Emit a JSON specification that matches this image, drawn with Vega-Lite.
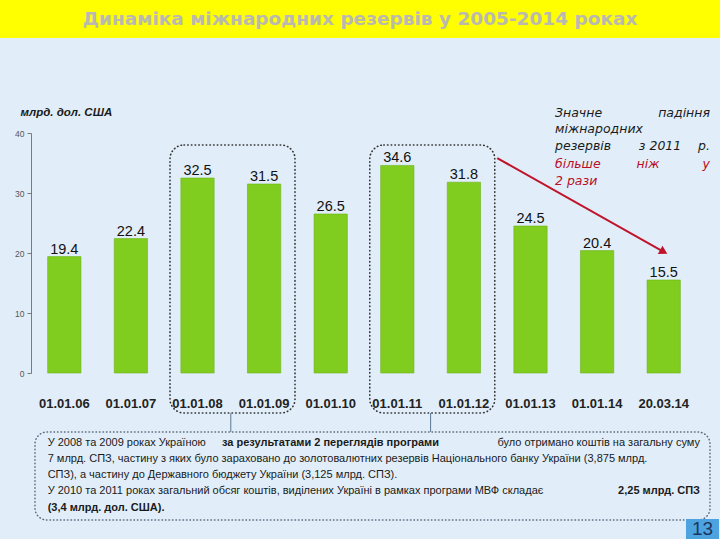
{
  "$schema": "https://vega.github.io/schema/vega-lite/v6.json",
  "background": "#e1eef9",
  "padding": 0,
  "config": {"view": {"stroke": null}, "axis": {"grid": false}},
  "spacing": 95,
  "bounds": "flush",
  "vconcat": [
    {
      "width": 720,
      "height": 38,
      "view": {"fill": "#ffff00", "stroke": null},
      "data": {"values": [{"t": "Динаміка міжнародних резервів у 2005-2014 роках"}]},
      "mark": {"type": "text", "font": "DejaVu Sans", "fontWeight": "bold", "fontSize": 18.5, "color": "#b9b9b0"},
      "encoding": {"text": {"field": "t", "type": "nominal"}}
    },
    {
      "spacing": 0,
      "bounds": "flush",
      "hconcat": [
        {
          "width": 31,
          "height": 10,
          "data": {"values": [{}]},
          "mark": {"type": "point", "opacity": 0}
        },
        {
          "width": 666,
          "height": 240,
          "data": {"values": [
            {"d": "01.01.06", "v": 19.4},
            {"d": "01.01.07", "v": 22.4},
            {"d": "01.01.08", "v": 32.5},
            {"d": "01.01.09", "v": 31.5},
            {"d": "01.01.10", "v": 26.5},
            {"d": "01.01.11", "v": 34.6},
            {"d": "01.01.12", "v": 31.8},
            {"d": "01.01.13", "v": 24.5},
            {"d": "01.01.14", "v": 20.4},
            {"d": "20.03.14", "v": 15.5}
          ]},
          "layer": [
            {
              "mark": {"type": "bar", "color": "#80cc1f", "stroke": "#6cb21a", "strokeWidth": 0.6},
              "encoding": {
                "x": {
                  "field": "d", "type": "nominal", "sort": null,
                  "scale": {"domain": ["01.01.06", "01.01.07", "01.01.08", "01.01.09", "01.01.10", "01.01.11", "01.01.12", "01.01.13", "01.01.14", "20.03.14"], "paddingInner": 0.5, "paddingOuter": 0.25},
                  "axis": {"title": null, "labelAngle": 0, "labelFont": "Liberation Sans", "labelFontWeight": "bold", "labelFontSize": 13, "labelColor": "#222222", "domain": false, "ticks": false, "tickSize": 0, "labelPadding": 24}
                },
                "y": {
                  "field": "v", "type": "quantitative",
                  "scale": {"domain": [0, 40], "nice": false},
                  "axis": {
                    "values": [0, 5, 10, 15, 20, 25, 30, 35, 40],
                    "title": "млрд. дол. США", "titleAngle": 0, "titleAlign": "left", "titleBaseline": "middle",
                    "titleX": -11, "titleY": -21, "titleFont": "Liberation Sans", "titleFontStyle": "italic",
                    "titleFontWeight": "bold", "titleFontSize": 11.5, "titleColor": "#1a1a1a",
                    "labelFont": "Liberation Sans", "labelFontSize": 8.5, "labelColor": "#555555",
                    "domainColor": "#7a7a7a", "tickColor": "#7a7a7a", "tickSize": 4, "labelPadding": 3
                  }
                }
              }
            },
            {
              "mark": {"type": "text", "baseline": "alphabetic", "dy": -3, "font": "Liberation Sans", "fontSize": 14.5, "color": "#111111"},
              "encoding": {
                "x": {"field": "d", "type": "nominal"},
                "y": {"field": "v", "type": "quantitative"},
                "text": {"field": "v", "type": "quantitative", "format": ".1f"}
              }
            },
            {
              "data": {"values": [{"c": "01.01.08"}, {"c": "01.01.11"}]},
              "mark": {"type": "point", "shape": "M-0.3619,-1H0.3619A0.1045,0.1045,0,0,1,0.4664,-0.8955V0.8955A0.1045,0.1045,0,0,1,0.3619,1H-0.3619A0.1045,0.1045,0,0,1,-0.4664,0.8955V-0.8955A0.1045,0.1045,0,0,1,-0.3619,-1Z", "size": 71824, "filled": false, "fill": "transparent", "stroke": "#333333", "strokeWidth": 1.6, "strokeDash": [0.5, 3.2], "strokeCap": "round", "opacity": 1},
              "encoding": {
                "x": {"field": "c", "type": "nominal", "bandPosition": 1.551},
                "y": {"datum": 15.67, "type": "quantitative"}
              }
            },
            {
              "data": {"values": [{"c": "01.01.08"}, {"c": "01.01.11"}]},
              "mark": {"type": "rule", "color": "#5c7592", "strokeWidth": 1},
              "encoding": {
                "x": {"field": "c", "type": "nominal", "bandPosition": 1.5},
                "y": {"datum": -6.67, "type": "quantitative"},
                "y2": {"datum": -9.83}
              }
            },
            {
              "data": {"values": [{}]},
              "mark": {"type": "rule", "color": "#c0142a", "strokeWidth": 2},
              "encoding": {
                "x": {"datum": "01.01.12", "type": "nominal", "bandPosition": 1.5},
                "x2": {"datum": "20.03.14", "bandPosition": 0.5},
                "y": {"datum": 35.83, "type": "quantitative"},
                "y2": {"datum": 20.2}
              }
            },
            {
              "data": {"values": [{}]},
              "mark": {"type": "point", "shape": "triangle-right", "angle": 29.4, "size": 90, "filled": true, "color": "#c0142a", "opacity": 1},
              "encoding": {
                "x": {"datum": "20.03.14", "type": "nominal", "bandPosition": 0.5},
                "y": {"datum": 20.2, "type": "quantitative"}
              }
            },
            {
              "data": {"values": [{}]},
              "mark": {"type": "text", "text": "Значне", "align": "left", "baseline": "middle", "font": "DejaVu Sans", "fontStyle": "italic", "fontSize": 12.5, "color": "#1a1a1a"},
              "encoding": {"x": {"datum": "01.01.13", "type": "nominal", "bandPosition": 1.236}, "y": {"datum": 43.33, "type": "quantitative"}}
            },
            {
              "data": {"values": [{}]},
              "mark": {"type": "text", "text": "падіння", "align": "right", "baseline": "middle", "font": "DejaVu Sans", "fontStyle": "italic", "fontSize": 12.5, "color": "#1a1a1a"},
              "encoding": {"x": {"datum": "20.03.14", "type": "nominal", "bandPosition": 1.89}, "y": {"datum": 43.33, "type": "quantitative"}}
            },
            {
              "data": {"values": [{}]},
              "mark": {"type": "text", "text": "міжнародних", "align": "left", "baseline": "middle", "font": "DejaVu Sans", "fontStyle": "italic", "fontSize": 12.5, "color": "#1a1a1a"},
              "encoding": {"x": {"datum": "01.01.13", "type": "nominal", "bandPosition": 1.236}, "y": {"datum": 40.67, "type": "quantitative"}}
            },
            {
              "data": {"values": [{}]},
              "mark": {"type": "text", "text": "резервів", "align": "left", "baseline": "middle", "font": "DejaVu Sans", "fontStyle": "italic", "fontSize": 12.5, "color": "#1a1a1a"},
              "encoding": {"x": {"datum": "01.01.13", "type": "nominal", "bandPosition": 1.236}, "y": {"datum": 37.83, "type": "quantitative"}}
            },
            {
              "data": {"values": [{}]},
              "mark": {"type": "text", "text": "з 2011", "align": "center", "baseline": "middle", "font": "DejaVu Sans", "fontStyle": "italic", "fontSize": 12.5, "color": "#1a1a1a"},
              "encoding": {"x": {"datum": "20.03.14", "type": "nominal", "bandPosition": 0.39}, "y": {"datum": 37.83, "type": "quantitative"}}
            },
            {
              "data": {"values": [{}]},
              "mark": {"type": "text", "text": "р.", "align": "right", "baseline": "middle", "font": "DejaVu Sans", "fontStyle": "italic", "fontSize": 12.5, "color": "#1a1a1a"},
              "encoding": {"x": {"datum": "20.03.14", "type": "nominal", "bandPosition": 1.89}, "y": {"datum": 37.83, "type": "quantitative"}}
            },
            {
              "data": {"values": [{}]},
              "mark": {"type": "text", "text": "більше", "align": "left", "baseline": "middle", "font": "DejaVu Sans", "fontStyle": "italic", "fontSize": 12.5, "color": "#b80f25"},
              "encoding": {"x": {"datum": "01.01.13", "type": "nominal", "bandPosition": 1.236}, "y": {"datum": 34.83, "type": "quantitative"}}
            },
            {
              "data": {"values": [{}]},
              "mark": {"type": "text", "text": "ніж", "align": "center", "baseline": "middle", "font": "DejaVu Sans", "fontStyle": "italic", "fontSize": 12.5, "color": "#b80f25"},
              "encoding": {"x": {"datum": "20.03.14", "type": "nominal", "bandPosition": 0.03}, "y": {"datum": 34.83, "type": "quantitative"}}
            },
            {
              "data": {"values": [{}]},
              "mark": {"type": "text", "text": "у", "align": "right", "baseline": "middle", "font": "DejaVu Sans", "fontStyle": "italic", "fontSize": 12.5, "color": "#b80f25"},
              "encoding": {"x": {"datum": "20.03.14", "type": "nominal", "bandPosition": 1.89}, "y": {"datum": 34.83, "type": "quantitative"}}
            },
            {
              "data": {"values": [{}]},
              "mark": {"type": "text", "text": "2 рази", "align": "left", "baseline": "middle", "font": "DejaVu Sans", "fontStyle": "italic", "fontSize": 12.5, "color": "#b80f25"},
              "encoding": {"x": {"datum": "01.01.13", "type": "nominal", "bandPosition": 1.236}, "y": {"datum": 32.0, "type": "quantitative"}}
            },
            {
              "data": {"values": [{}]},
              "mark": {"type": "point", "shape": "M-0.9644,-0.1304H0.9644A0.0356,0.0356,0,0,1,1,-0.0948V0.0948A0.0356,0.0356,0,0,1,0.9644,0.1304H-0.9644A0.0356,0.0356,0,0,1,-1,0.0948V-0.0948A0.0356,0.0356,0,0,1,-0.9644,-0.1304Z", "size": 455625, "filled": false, "fill": "transparent", "stroke": "#5a6b80", "strokeWidth": 1.5, "strokeDash": [0.5, 3], "strokeCap": "round", "opacity": 1},
              "encoding": {
                "x": {"datum": "01.01.10", "type": "nominal", "bandPosition": 1.755},
                "y": {"datum": -17.17, "type": "quantitative"}
              }
            },
            {
              "data": {"values": [{}]},
              "mark": {"type": "text", "text": "У 2008 та 2009 роках Україною", "align": "left", "baseline": "middle", "font": "Liberation Sans", "fontSize": 11, "color": "#1a1a1a"},
              "encoding": {"x": {"datum": "01.01.06", "type": "nominal", "bandPosition": 0}, "y": {"datum": -11.67, "type": "quantitative"}}
            },
            {
              "data": {"values": [{}]},
              "mark": {"type": "text", "text": "за результатами 2 переглядів програми", "align": "left", "baseline": "middle", "font": "Liberation Sans", "fontWeight": "bold", "fontSize": 11, "color": "#1a1a1a"},
              "encoding": {"x": {"datum": "01.01.08", "type": "nominal", "bandPosition": 1.236}, "y": {"datum": -11.67, "type": "quantitative"}}
            },
            {
              "data": {"values": [{}]},
              "mark": {"type": "text", "text": "було отримано коштів на загальну суму", "align": "right", "baseline": "middle", "font": "Liberation Sans", "fontSize": 11, "color": "#1a1a1a"},
              "encoding": {"x": {"datum": "20.03.14", "type": "nominal", "bandPosition": 1.59}, "y": {"datum": -11.67, "type": "quantitative"}}
            },
            {
              "data": {"values": [{}]},
              "mark": {"type": "text", "text": "7 млрд. СПЗ, частину з яких було зараховано до золотовалютних резервів Національного банку України (3,875 млрд.", "align": "left", "baseline": "middle", "font": "Liberation Sans", "fontSize": 11, "color": "#1a1a1a"},
              "encoding": {"x": {"datum": "01.01.06", "type": "nominal", "bandPosition": 0}, "y": {"datum": -14.33, "type": "quantitative"}}
            },
            {
              "data": {"values": [{}]},
              "mark": {"type": "text", "text": "СПЗ), а частину до Державного бюджету України (3,125 млрд. СПЗ).", "align": "left", "baseline": "middle", "font": "Liberation Sans", "fontSize": 11, "color": "#1a1a1a"},
              "encoding": {"x": {"datum": "01.01.06", "type": "nominal", "bandPosition": 0}, "y": {"datum": -17.0, "type": "quantitative"}}
            },
            {
              "data": {"values": [{}]},
              "mark": {"type": "text", "text": "У 2010 та 2011 роках загальний обсяг коштів, виділених Україні в рамках програми МВФ складає", "align": "left", "baseline": "middle", "font": "Liberation Sans", "fontSize": 11, "color": "#1a1a1a"},
              "encoding": {"x": {"datum": "01.01.06", "type": "nominal", "bandPosition": 0}, "y": {"datum": -19.67, "type": "quantitative"}}
            },
            {
              "data": {"values": [{}]},
              "mark": {"type": "text", "text": "2,25 млрд. СПЗ", "align": "right", "baseline": "middle", "font": "Liberation Sans", "fontWeight": "bold", "fontSize": 11, "color": "#1a1a1a"},
              "encoding": {"x": {"datum": "20.03.14", "type": "nominal", "bandPosition": 1.59}, "y": {"datum": -19.67, "type": "quantitative"}}
            },
            {
              "data": {"values": [{}]},
              "mark": {"type": "text", "text": "(3,4 млрд. дол. США).", "align": "left", "baseline": "middle", "font": "Liberation Sans", "fontWeight": "bold", "fontSize": 11, "color": "#1a1a1a"},
              "encoding": {"x": {"datum": "01.01.06", "type": "nominal", "bandPosition": 0}, "y": {"datum": -22.5, "type": "quantitative"}}
            },
            {
              "data": {"values": [{}]},
              "mark": {"type": "point", "shape": "M-1,-0.606H1V0.606H-1Z", "size": 1089, "filled": true, "color": "#4da3e0", "opacity": 1, "strokeWidth": 0},
              "encoding": {
                "x": {"datum": "20.03.14", "type": "nominal", "bandPosition": 1.665},
                "y": {"datum": -26.0, "type": "quantitative"}
              }
            },
            {
              "data": {"values": [{}]},
              "mark": {"type": "text", "text": "13", "align": "center", "baseline": "middle", "font": "Liberation Sans", "fontSize": 19, "color": "#1c355e"},
              "encoding": {"x": {"datum": "20.03.14", "type": "nominal", "bandPosition": 1.665}, "y": {"datum": -26.0, "type": "quantitative"}}
            }
          ]
        }
      ]
    }
  ]
}
